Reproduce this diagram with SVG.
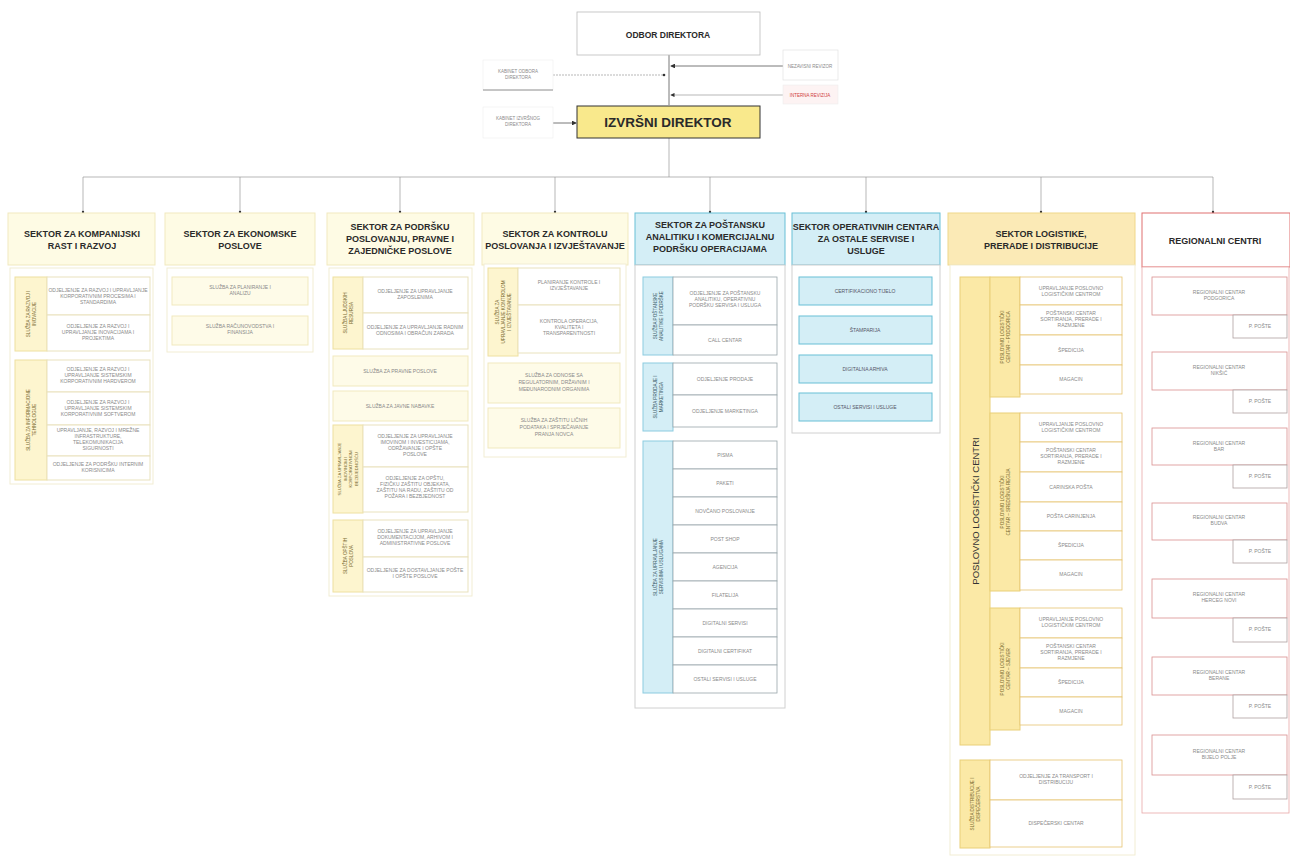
<svg xmlns="http://www.w3.org/2000/svg" width="1290" height="859" viewBox="0 0 1290 859">
<style>
text{font-family:"Liberation Sans",Arial,sans-serif;text-anchor:middle}
.t{font-size:5px;fill:#8a8a8a}
.h{font-size:9px;font-weight:bold;fill:#2a2a2a}
.vl{font-size:4.6px;fill:#7a6a30}
.hy{fill:#fefbe4;stroke:#f1e9bf;stroke-width:1}
.cy{fill:#fefbe8;stroke:#f1e9bf;stroke-width:1}
.cont{fill:#fff;stroke:#f2edd3;stroke-width:1}
.cell{fill:#fff;stroke:#e9e2bd;stroke-width:1}
.ly{fill:#fdf5cf;stroke:#eee0a0;stroke-width:1}
.hb{fill:#d4eef6;stroke:#69bfd6;stroke-width:1}
.lb{fill:#d4eef6;stroke:#8ccbe0;stroke-width:1}
.cellb{fill:#fff;stroke:#9aa6aa;stroke-width:0.8}
.contg{fill:#fff;stroke:#d0d0d0;stroke-width:1}
.ho{fill:#fbeab6;stroke:#f0d78a;stroke-width:1}
.lo{fill:#fbe9a6;stroke:#e9cf78;stroke-width:1}
.cello{fill:#fff;stroke:#e6c470;stroke-width:0.8}
.hr{fill:#fff;stroke:#e07070;stroke-width:1}
.cr{fill:#fff;stroke:#d99090;stroke-width:0.8}
.pp{fill:#fff;stroke:#b0a0a0;stroke-width:0.8}
.ln{stroke:#555;stroke-width:0.8;fill:none}
.lnl{stroke:#999;stroke-width:0.7;fill:none}
</style>
<defs>
<marker id="ar" markerWidth="6" markerHeight="6" refX="5" refY="3" orient="auto"><path d="M0,0 L6,3 L0,6 z" fill="#333"/></marker>
</defs>
<rect width="1290" height="859" fill="#fff"/>

<g id="connectors">
<line class="ln" x1="669" y1="55" x2="669" y2="105"/>
<line class="lnl" x1="553" y1="75" x2="664" y2="75" stroke-dasharray="2,1"/>
<circle cx="664" cy="75" r="1.3" fill="#333"/>
<line class="ln" x1="783" y1="66" x2="671" y2="66" marker-end="url(#ar)"/>
<line class="lnl" x1="783" y1="95" x2="671" y2="95" marker-end="url(#ar)"/>
<line class="ln" x1="553" y1="123" x2="576" y2="123" marker-end="url(#ar)"/>
<line class="lnl" x1="669" y1="138" x2="669" y2="177"/>
<line class="lnl" x1="83" y1="177" x2="1213" y2="177"/>
<line class="lnl" x1="83" y1="177" x2="83" y2="213"/>
<line class="lnl" x1="240" y1="177" x2="240" y2="213"/>
<line class="lnl" x1="400" y1="177" x2="400" y2="213"/>
<line class="lnl" x1="555" y1="177" x2="555" y2="213"/>
<line class="lnl" x1="710" y1="177" x2="710" y2="213"/>
<line class="lnl" x1="866" y1="177" x2="866" y2="213"/>
<line class="lnl" x1="1041" y1="177" x2="1041" y2="213"/>
<line class="lnl" x1="1213" y1="177" x2="1213" y2="213"/>
<circle cx="83" cy="212" r="1.2" fill="#333"/>
<circle cx="240" cy="212" r="1.2" fill="#333"/>
<circle cx="400" cy="212" r="1.2" fill="#333"/>
<circle cx="555" cy="212" r="1.2" fill="#333"/>
<circle cx="710" cy="212" r="1.2" fill="#333"/>
<circle cx="866" cy="212" r="1.2" fill="#333"/>
<circle cx="1041" cy="212" r="1.2" fill="#333"/>
<circle cx="1213" cy="212" r="1.2" fill="#333"/>
</g>

<g id="odbor">
<rect x="577" y="12" width="183" height="43" fill="#fff" stroke="#bbb" stroke-width="0.8"/>
<text class="h" x="668" y="38" style="font-size:8.5px">ODBOR DIREKTORA</text>
</g>
<g id="kabinet-odbora">
<rect x="483" y="60" width="70" height="30" fill="#fff" stroke="#eee" stroke-width="0.6"/>
<line x1="483" y1="90" x2="553" y2="90" stroke="#777" stroke-width="0.8"/>
<text class="t" x="518" y="73" style="font-size:4.5px">KABINET ODBORA<tspan x="518" dy="6">DIREKTORA</tspan></text>
</g>
<g id="kabinet-izvrsnog">
<rect x="483" y="107" width="70" height="31" fill="#fff" stroke="#eee" stroke-width="0.6"/>
<text class="t" x="518" y="120" style="font-size:4.5px">KABINET IZVRŠNOG<tspan x="518" dy="6">DIREKTORA</tspan></text>
</g>
<g id="nezavisni">
<rect x="783" y="50" width="55" height="30" fill="#fff" stroke="#ddd" stroke-width="0.6"/>
<text class="t" x="810" y="68" style="font-size:4.5px">NEZAVISNI REVIZOR</text>
</g>
<g id="interna">
<rect x="783" y="85" width="55" height="19" fill="#fdf3f3" stroke="#eee" stroke-width="0.6"/>
<text x="810" y="97" style="font-size:4.5px;fill:#d04040">INTERNA REVIZIJA</text>
</g>
<g id="izvrsni">
<rect x="577" y="106" width="183" height="32" fill="#f9e98c" stroke="#333" stroke-width="1"/>
<text class="h" x="668" y="127" style="font-size:13.5px">IZVRŠNI DIREKTOR</text>
</g>

<!-- Sector 1 -->
<g id="sektor1">
<rect class="hy" x="8" y="213" width="147" height="52"/>
<text class="h" x="82" y="237">SEKTOR ZA KOMPANIJSKI<tspan x="82" dy="12">RAST I RAZVOJ</tspan></text>
<rect class="cont" x="10" y="268" width="143" height="216"/>
<rect class="ly" x="15" y="277" width="32" height="74"/>
<text class="vl" transform="translate(31,314) rotate(-90)" y="-1">SLUŽBA ZA RAZVOJ I<tspan x="0" dy="6">INOVACIJE</tspan></text>
<rect class="cell" x="47" y="277" width="103" height="38"/>
<text class="t" x="98" y="292">ODJELJENJE ZA RAZVOJ I UPRAVLJANJE<tspan x="98" dy="6">KORPORATIVNIM PROCESIMA I</tspan><tspan x="98" dy="6">STANDARDIMA</tspan></text>
<rect class="cell" x="47" y="315" width="103" height="36"/>
<text class="t" x="98" y="328">ODJELJENJE ZA RAZVOJ I<tspan x="98" dy="6">UPRAVLJANJE INOVACIJAMA I</tspan><tspan x="98" dy="6">PROJEKTIMA</tspan></text>
<rect class="ly" x="15" y="360" width="32" height="120"/>
<text class="vl" transform="translate(31,420) rotate(-90)" y="-1">SLUŽBA ZA INFORMACIONE<tspan x="0" dy="6">TEHNOLOGIJE</tspan></text>
<rect class="cell" x="47" y="360" width="103" height="32"/>
<text class="t" x="98" y="371">ODJELJENJE ZA RAZVOJ I<tspan x="98" dy="6">UPRAVLJANJE SISTEMSKIM</tspan><tspan x="98" dy="6">KORPORATIVNIM HARDVEROM</tspan></text>
<rect class="cell" x="47" y="392" width="103" height="33"/>
<text class="t" x="98" y="404">ODJELJENJE ZA RAZVOJ I<tspan x="98" dy="6">UPRAVLJANJE SISTEMSKIM</tspan><tspan x="98" dy="6">KORPORATIVNIM SOFTVEROM</tspan></text>
<rect class="cell" x="47" y="425" width="103" height="31"/>
<text class="t" x="98" y="432">UPRAVLJANJE, RAZVOJ I MREŽNE<tspan x="98" dy="6">INFRASTRUKTURE,</tspan><tspan x="98" dy="6">TELEKOMUNIKACIJA</tspan><tspan x="98" dy="6">SIGURNOSTI</tspan></text>
<rect class="cell" x="47" y="456" width="103" height="24"/>
<text class="t" x="98" y="466">ODJELJENJE ZA PODRŠKU INTERNIM<tspan x="98" dy="6">KORISNICIMA</tspan></text>
</g>

<!-- Sector 2 -->
<g id="sektor2">
<rect class="hy" x="165" y="213" width="150" height="52"/>
<text class="h" x="240" y="237">SEKTOR ZA EKONOMSKE<tspan x="240" dy="12">POSLOVE</tspan></text>
<rect class="cont" x="167" y="268" width="146" height="84"/>
<rect class="cy" x="172" y="277" width="136" height="28"/>
<text class="t" x="240" y="289">SLUŽBA ZA PLANIRANJE I<tspan x="240" dy="6">ANALIZU</tspan></text>
<rect class="cy" x="172" y="316" width="136" height="29"/>
<text class="t" x="240" y="328">SLUŽBA RAČUNOVODSTVA I<tspan x="240" dy="6">FINANSIJA</tspan></text>
</g>

<!-- Sector 3 -->
<g id="sektor3">
<rect class="hy" x="327" y="213" width="147" height="52"/>
<text class="h" x="400" y="230">SEKTOR ZA PODRŠKU<tspan x="400" dy="12">POSLOVANJU, PRAVNE I</tspan><tspan x="400" dy="12">ZAJEDNIČKE POSLOVE</tspan></text>
<rect class="cont" x="329" y="268" width="143" height="328"/>
<rect class="ly" x="333" y="277" width="30" height="72"/>
<text class="vl" transform="translate(348,313) rotate(-90)" y="-1">SLUŽBA LJUDSKIH<tspan x="0" dy="6">RESURSA</tspan></text>
<rect class="cell" x="363" y="277" width="105" height="36"/>
<text class="t" x="415" y="293">ODJELJENJE ZA UPRAVLJANJE<tspan x="415" dy="6">ZAPOSLENIMA</tspan></text>
<rect class="cell" x="363" y="313" width="105" height="36"/>
<text class="t" x="415" y="329">ODJELJENJE ZA UPRAVLJANJE RADNIM<tspan x="415" dy="6">ODNOSIMA I OBRAČUN ZARADA</tspan></text>
<rect class="cy" x="333" y="356" width="135" height="30"/>
<text class="t" x="400" y="373">SLUŽBA ZA PRAVNE POSLOVE</text>
<rect class="cy" x="333" y="391" width="135" height="30"/>
<text class="t" x="400" y="408">SLUŽBA ZA JAVNE NABAVKE</text>
<rect class="ly" x="333" y="425" width="30" height="88"/>
<text class="vl" transform="translate(348,469) rotate(-90)" y="-7" style="font-size:4.2px">SLUŽBA ZA UPRAVLJANJE<tspan x="0" dy="5.5">IMOVINOM I</tspan><tspan x="0" dy="5.5">KORPORATIVNOM</tspan><tspan x="0" dy="5.5">BEZBJEDNOŠĆU</tspan></text>
<rect class="cell" x="363" y="425" width="105" height="42"/>
<text class="t" x="415" y="438">ODJELJENJE ZA UPRAVLJANJE<tspan x="415" dy="6">IMOVINOM I INVESTICIJAMA,</tspan><tspan x="415" dy="6">ODRŽAVANJE I OPŠTE</tspan><tspan x="415" dy="6">POSLOVE</tspan></text>
<rect class="cell" x="363" y="467" width="105" height="45"/>
<text class="t" x="415" y="480">ODJELJENJE ZA OPŠTU,<tspan x="415" dy="6">FIZIČKU ZAŠTITU OBJEKATA,</tspan><tspan x="415" dy="6">ZAŠTITU NA RADU, ZAŠTITU OD</tspan><tspan x="415" dy="6">POŽARA I BEZBJEDNOST</tspan></text>
<rect class="ly" x="333" y="520" width="30" height="72"/>
<text class="vl" transform="translate(348,556) rotate(-90)" y="-1">SLUŽBA OPŠTIH<tspan x="0" dy="6">POSLOVA</tspan></text>
<rect class="cell" x="363" y="520" width="105" height="37"/>
<text class="t" x="415" y="533">ODJELJENJE ZA UPRAVLJANJE<tspan x="415" dy="6">DOKUMENTACIJOM, ARHIVOM I</tspan><tspan x="415" dy="6">ADMINISTRATIVNE POSLOVE</tspan></text>
<rect class="cell" x="363" y="557" width="105" height="35"/>
<text class="t" x="415" y="572">ODJELJENJE ZA DOSTAVLJANJE POŠTE<tspan x="415" dy="6">I OPŠTE POSLOVE</tspan></text>
</g>

<!-- Sector 4 -->
<g id="sektor4">
<rect class="hy" x="482" y="213" width="146" height="52"/>
<text class="h" x="555" y="237">SEKTOR ZA KONTROLU<tspan x="555" dy="12">POSLOVANJA I IZVJEŠTAVANJE</tspan></text>
<rect class="cont" x="484" y="264" width="142" height="193"/>
<rect class="ly" x="488" y="268" width="30" height="88"/>
<text class="vl" transform="translate(503,312) rotate(-90)" y="-4">SLUŽBA ZA<tspan x="0" dy="6">UPRAVLJANJE KONTROLOM</tspan><tspan x="0" dy="6">I IZVJEŠTAVANJE</tspan></text>
<rect class="cell" x="518" y="268" width="102" height="37"/>
<text class="t" x="569" y="284">PLANIRANJE KONTROLE I<tspan x="569" dy="6">IZVJEŠTAVANJE</tspan></text>
<rect class="cell" x="518" y="305" width="102" height="48"/>
<text class="t" x="569" y="323">KONTROLA OPERACIJA,<tspan x="569" dy="6">KVALITETA I</tspan><tspan x="569" dy="6">TRANSPARENTNOSTI</tspan></text>
<rect class="cy" x="488" y="363" width="132" height="40"/>
<text class="t" x="554" y="377">SLUŽBA ZA ODNOSE SA<tspan x="554" dy="7">REGULATORNIM, DRŽAVNIM I</tspan><tspan x="554" dy="7">MEĐUNARODNIM ORGANIMA</tspan></text>
<rect class="cy" x="488" y="408" width="132" height="40"/>
<text class="t" x="554" y="422">SLUŽBA ZA ZAŠTITU LIČNIH<tspan x="554" dy="7">PODATAKA I SPRJEČAVANJE</tspan><tspan x="554" dy="7">PRANJA NOVCA</tspan></text>
</g>

<!-- Sector 5 -->
<g id="sektor5">
<rect class="hb" x="635" y="213" width="150" height="52"/>
<text class="h" x="710" y="228">SEKTOR ZA POŠTANSKU<tspan x="710" dy="12">ANALITIKU I KOMERCIJALNU</tspan><tspan x="710" dy="12">PODRŠKU OPERACIJAMA</tspan></text>
<rect class="contg" x="635" y="265" width="150" height="443"/>
<rect class="lb" x="643" y="277" width="30" height="78"/>
<text class="vl" transform="translate(658,316) rotate(-90)" y="-1" style="fill:#3a5a66">SLUŽBA POŠTANSKE<tspan x="0" dy="6">ANALITIKE I PODRŠKE</tspan></text>
<rect class="cellb" x="673" y="277" width="104" height="48"/>
<text class="t" x="725" y="295">ODJELJENJE ZA POŠTANSKU<tspan x="725" dy="6">ANALITIKU, OPERATIVNU</tspan><tspan x="725" dy="6">PODRŠKU SERVISA I USLUGA</tspan></text>
<rect class="cellb" x="673" y="325" width="104" height="30"/>
<text class="t" x="725" y="342">CALL CENTAR</text>
<rect class="lb" x="643" y="363" width="30" height="68"/>
<text class="vl" transform="translate(658,397) rotate(-90)" y="-1" style="fill:#3a5a66">SLUŽBA PRODAJE I<tspan x="0" dy="6">MARKETINGA</tspan></text>
<rect class="cellb" x="673" y="363" width="104" height="32"/>
<text class="t" x="725" y="381">ODJELJENJE PRODAJE</text>
<rect class="cellb" x="673" y="395" width="104" height="32"/>
<text class="t" x="725" y="413">ODJELJENJE MARKETINGA</text>
<rect class="lb" x="643" y="441" width="30" height="252"/>
<text class="vl" transform="translate(658,567) rotate(-90)" y="-1" style="fill:#3a5a66">SLUŽBA ZA UPRAVLJANJE<tspan x="0" dy="6">SERVISIMA I USLUGAMA</tspan></text>
<rect class="cellb" x="673" y="441" width="104" height="28"/>
<text class="t" x="725" y="457">PISMA</text>
<rect class="cellb" x="673" y="469" width="104" height="28"/>
<text class="t" x="725" y="485">PAKETI</text>
<rect class="cellb" x="673" y="497" width="104" height="28"/>
<text class="t" x="725" y="513">NOVČANO POSLOVANJE</text>
<rect class="cellb" x="673" y="525" width="104" height="28"/>
<text class="t" x="725" y="541">POST SHOP</text>
<rect class="cellb" x="673" y="553" width="104" height="28"/>
<text class="t" x="725" y="569">AGENCIJA</text>
<rect class="cellb" x="673" y="581" width="104" height="28"/>
<text class="t" x="725" y="597">FILATELIJA</text>
<rect class="cellb" x="673" y="609" width="104" height="28"/>
<text class="t" x="725" y="625">DIGITALNI SERVISI</text>
<rect class="cellb" x="673" y="637" width="104" height="28"/>
<text class="t" x="725" y="653">DIGITALNI CERTIFIKAT</text>
<rect class="cellb" x="673" y="665" width="104" height="28"/>
<text class="t" x="725" y="681">OSTALI SERVISI I USLUGE</text>
</g>

<!-- Sector 6 -->
<g id="sektor6">
<rect class="hb" x="792" y="213" width="148" height="52"/>
<text class="h" x="866" y="230">SEKTOR OPERATIVNIH CENTARA<tspan x="866" dy="12">ZA OSTALE SERVISE I</tspan><tspan x="866" dy="12">USLUGE</tspan></text>
<rect class="contg" x="792" y="265" width="148" height="168"/>
<rect class="hb" x="799" y="277" width="133" height="28"/>
<text class="t" x="865" y="293" style="fill:#556">CERTIFIKACIONO TIJELO</text>
<rect class="hb" x="799" y="316" width="133" height="28"/>
<text class="t" x="865" y="332" style="fill:#556">ŠTAMPARIJA</text>
<rect class="hb" x="799" y="355" width="133" height="28"/>
<text class="t" x="865" y="371" style="fill:#556">DIGITALNA ARHIVA</text>
<rect class="hb" x="799" y="393" width="133" height="28"/>
<text class="t" x="865" y="409" style="fill:#556">OSTALI SERVISI I USLUGE</text>
</g>

<!-- Sector 7 -->
<g id="sektor7">
<rect class="ho" x="948" y="213" width="187" height="52"/>
<text class="h" x="1041" y="237">SEKTOR LOGISTIKE,<tspan x="1041" dy="12">PRERADE I DISTRIBUCIJE</tspan></text>
<rect class="cont" x="950" y="265" width="185" height="590"/>
<rect class="lo" x="960" y="277" width="30" height="468"/>
<text transform="translate(979,511) rotate(-90)" style="font-size:9.5px;fill:#333">POSLOVNO LOGISTIČKI CENTRI</text>
<rect class="lo" x="990" y="277" width="30" height="120"/>
<text class="vl" transform="translate(1005,337) rotate(-90)" y="-1">POSLOVNO LOGISTIČKI<tspan x="0" dy="6">CENTAR – PODGORICA</tspan></text>
<rect class="cello" x="1020" y="277" width="102" height="28"/>
<text class="t" x="1071" y="290">UPRAVLJANJE POSLOVNO<tspan x="1071" dy="6">LOGISTIČKIM CENTROM</tspan></text>
<rect class="cello" x="1020" y="305" width="102" height="30"/>
<text class="t" x="1071" y="315">POŠTANSKI CENTAR<tspan x="1071" dy="6">SORTIRANJA, PRERADE I</tspan><tspan x="1071" dy="6">RAZMJENE</tspan></text>
<rect class="cello" x="1020" y="335" width="102" height="30"/>
<text class="t" x="1071" y="352">ŠPEDICIJA</text>
<rect class="cello" x="1020" y="365" width="102" height="29"/>
<text class="t" x="1071" y="381">MAGACIN</text>
<rect class="lo" x="990" y="413" width="30" height="178"/>
<text class="vl" transform="translate(1005,502) rotate(-90)" y="-1">POSLOVNO LOGISTIČKI<tspan x="0" dy="6">CENTAR – SREDIŠNJA REGIJA</tspan></text>
<rect class="cello" x="1020" y="413" width="102" height="29"/>
<text class="t" x="1071" y="426">UPRAVLJANJE POSLOVNO<tspan x="1071" dy="6">LOGISTIČKIM CENTROM</tspan></text>
<rect class="cello" x="1020" y="442" width="102" height="30"/>
<text class="t" x="1071" y="452">POŠTANSKI CENTAR<tspan x="1071" dy="6">SORTIRANJA, PRERADE I</tspan><tspan x="1071" dy="6">RAZMJENE</tspan></text>
<rect class="cello" x="1020" y="472" width="102" height="30"/>
<text class="t" x="1071" y="489">CARINSKA POŠTA</text>
<rect class="cello" x="1020" y="502" width="102" height="29"/>
<text class="t" x="1071" y="518">POŠTA CARINJENJA</text>
<rect class="cello" x="1020" y="531" width="102" height="29"/>
<text class="t" x="1071" y="547">ŠPEDICIJA</text>
<rect class="cello" x="1020" y="560" width="102" height="30"/>
<text class="t" x="1071" y="576">MAGACIN</text>
<rect class="lo" x="990" y="608" width="30" height="122"/>
<text class="vl" transform="translate(1005,669) rotate(-90)" y="-1">POSLOVNO LOGISTIČKI<tspan x="0" dy="6">CENTAR – SJEVER</tspan></text>
<rect class="cello" x="1020" y="608" width="102" height="30"/>
<text class="t" x="1071" y="621">UPRAVLJANJE POSLOVNO<tspan x="1071" dy="6">LOGISTIČKIM CENTROM</tspan></text>
<rect class="cello" x="1020" y="638" width="102" height="30"/>
<text class="t" x="1071" y="648">POŠTANSKI CENTAR<tspan x="1071" dy="6">SORTIRANJA, PRERADE I</tspan><tspan x="1071" dy="6">RAZMJENE</tspan></text>
<rect class="cello" x="1020" y="668" width="102" height="29"/>
<text class="t" x="1071" y="684">ŠPEDICIJA</text>
<rect class="cello" x="1020" y="697" width="102" height="28"/>
<text class="t" x="1071" y="713">MAGACIN</text>
<rect class="lo" x="960" y="760" width="30" height="88"/>
<text class="vl" transform="translate(975,804) rotate(-90)" y="-1">SLUŽBA DISTRIBUCIJE I<tspan x="0" dy="6">DISPEČERSTVA</tspan></text>
<rect class="cello" x="990" y="760" width="132" height="40"/>
<text class="t" x="1056" y="778">ODJELJENJE ZA TRANSPORT I<tspan x="1056" dy="6">DISTRIBUCIJU</tspan></text>
<rect class="cello" x="990" y="800" width="132" height="47"/>
<text class="t" x="1056" y="825">DISPEČERSKI CENTAR</text>
</g>

<!-- Sector 8 -->
<g id="sektor8">
<rect class="hr" x="1142" y="213" width="148" height="54"/>
<text class="h" x="1215" y="244">REGIONALNI CENTRI</text>
<rect x="1142" y="267" width="147" height="546" fill="#fff" stroke="#e8a8a8" stroke-width="0.8"/>
<rect class="cr" x="1152" y="277" width="135" height="38"/>
<text class="t" x="1219" y="294">REGIONALNI CENTAR<tspan x="1219" dy="6">PODGORICA</tspan></text>
<rect class="pp" x="1233" y="315" width="54" height="23"/>
<text class="t" x="1260" y="328">P. POŠTE</text>
<rect class="cr" x="1152" y="352" width="135" height="38"/>
<text class="t" x="1219" y="369">REGIONALNI CENTAR<tspan x="1219" dy="6">NIKŠIĆ</tspan></text>
<rect class="pp" x="1233" y="390" width="54" height="23"/>
<text class="t" x="1260" y="403">P. POŠTE</text>
<rect class="cr" x="1152" y="428" width="135" height="37"/>
<text class="t" x="1219" y="445">REGIONALNI CENTAR<tspan x="1219" dy="6">BAR</tspan></text>
<rect class="pp" x="1233" y="465" width="54" height="23"/>
<text class="t" x="1260" y="478">P. POŠTE</text>
<rect class="cr" x="1152" y="503" width="135" height="37"/>
<text class="t" x="1219" y="519">REGIONALNI CENTAR<tspan x="1219" dy="6">BUDVA</tspan></text>
<rect class="pp" x="1233" y="540" width="54" height="23"/>
<text class="t" x="1260" y="553">P. POŠTE</text>
<rect class="cr" x="1152" y="579" width="135" height="39"/>
<text class="t" x="1219" y="596">REGIONALNI CENTAR<tspan x="1219" dy="6">HERCEG NOVI</tspan></text>
<rect class="pp" x="1233" y="618" width="54" height="24"/>
<text class="t" x="1260" y="631">P. POŠTE</text>
<rect class="cr" x="1152" y="657" width="135" height="38"/>
<text class="t" x="1219" y="674">REGIONALNI CENTAR<tspan x="1219" dy="6">BERANE</tspan></text>
<rect class="pp" x="1233" y="695" width="54" height="23"/>
<text class="t" x="1260" y="708">P. POŠTE</text>
<rect class="cr" x="1152" y="735" width="135" height="40"/>
<text class="t" x="1219" y="753">REGIONALNI CENTAR<tspan x="1219" dy="6">BIJELO POLJE</tspan></text>
<rect class="pp" x="1233" y="775" width="54" height="24"/>
<text class="t" x="1260" y="789">P. POŠTE</text>
</g>
</svg>
